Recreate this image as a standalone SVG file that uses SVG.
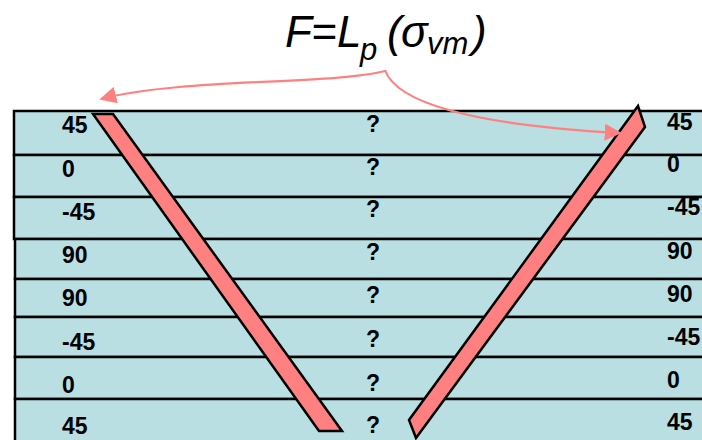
<svg xmlns="http://www.w3.org/2000/svg" width="702" height="440" viewBox="0 0 702 440">
<style>
.row{fill:#B9DFE2;stroke:#000;stroke-width:2.5}
.lbl{font-family:"Liberation Sans",Arial,sans-serif;font-weight:bold;font-size:23px;fill:#000}
.q{text-anchor:middle}
.strip{fill:#FF8080;stroke:#000;stroke-width:2.5;stroke-linejoin:miter}
.arr{fill:none;stroke:#FF8080;stroke-width:2.2}
.f{font-family:"Liberation Sans",Arial,sans-serif;font-style:italic;fill:#000}
</style>
<defs>
<marker id="ah" viewBox="0 0 10 10" refX="9" refY="5" markerWidth="17" markerHeight="17" markerUnits="userSpaceOnUse" orient="auto">
<path d="M0,0 L10,5 L0,10 z" fill="#FF8080"/>
</marker>
</defs>
<rect width="702" height="440" fill="#fff"/>
<g id="row1"><rect class="row" x="14" y="111" width="700" height="44"/><text class="lbl" x="62" y="133">45</text><text class="lbl q" x="373" y="132">?</text><text class="lbl" x="667" y="130">45</text></g>
<g id="row2"><rect class="row" x="14" y="155" width="700" height="42"/><text class="lbl" x="62" y="177">0</text><text class="lbl q" x="373" y="175">?</text><text class="lbl" x="667" y="172">0</text></g>
<g id="row3"><rect class="row" x="14" y="197" width="700" height="42"/><text class="lbl" x="62" y="220">-45</text><text class="lbl q" x="373" y="217">?</text><text class="lbl" x="667" y="215">-45</text></g>
<g id="row4"><rect class="row" x="15" y="239" width="700" height="40"/><text class="lbl" x="62" y="263">90</text><text class="lbl q" x="373" y="260">?</text><text class="lbl" x="667" y="259">90</text></g>
<g id="row5"><rect class="row" x="15" y="279" width="700" height="38"/><text class="lbl" x="62" y="306">90</text><text class="lbl q" x="373" y="303">?</text><text class="lbl" x="667" y="302">90</text></g>
<g id="row6"><rect class="row" x="15" y="317" width="700" height="40"/><text class="lbl" x="62" y="350">-45</text><text class="lbl q" x="373" y="347">?</text><text class="lbl" x="667" y="345">-45</text></g>
<g id="row7"><rect class="row" x="15" y="357" width="700" height="42"/><text class="lbl" x="62" y="393">0</text><text class="lbl q" x="373" y="391">?</text><text class="lbl" x="667" y="388">0</text></g>
<g id="row8"><rect class="row" x="15" y="399" width="700" height="50"/><text class="lbl" x="62" y="434">45</text><text class="lbl q" x="373" y="433">?</text><text class="lbl" x="667" y="430">45</text></g>
<g id="strip-left"><polygon class="strip" points="93,114 113,114 342,431 319,431"/></g>
<g id="strip-right"><polygon class="strip" points="638,106 645,127 416,438 409,420"/></g>
<g id="formula"><text class="f" y="47" font-size="44"><tspan x="285">F</tspan><tspan x="311">=</tspan><tspan x="337">L</tspan><tspan x="360" y="60" font-size="31">p</tspan><tspan x="387" y="47">(</tspan><tspan x="401">σ</tspan><tspan x="427" y="54" font-size="31">vm</tspan><tspan x="472" y="47">)</tspan></text></g>
<g id="connectors">
<path class="arr" d="M385,71 C330,85 180,78 101,99" marker-end="url(#ah)"/>
<path class="arr" d="M385,70 C396,102 470,125 620,133" marker-end="url(#ah)"/>
</g>
</svg>
